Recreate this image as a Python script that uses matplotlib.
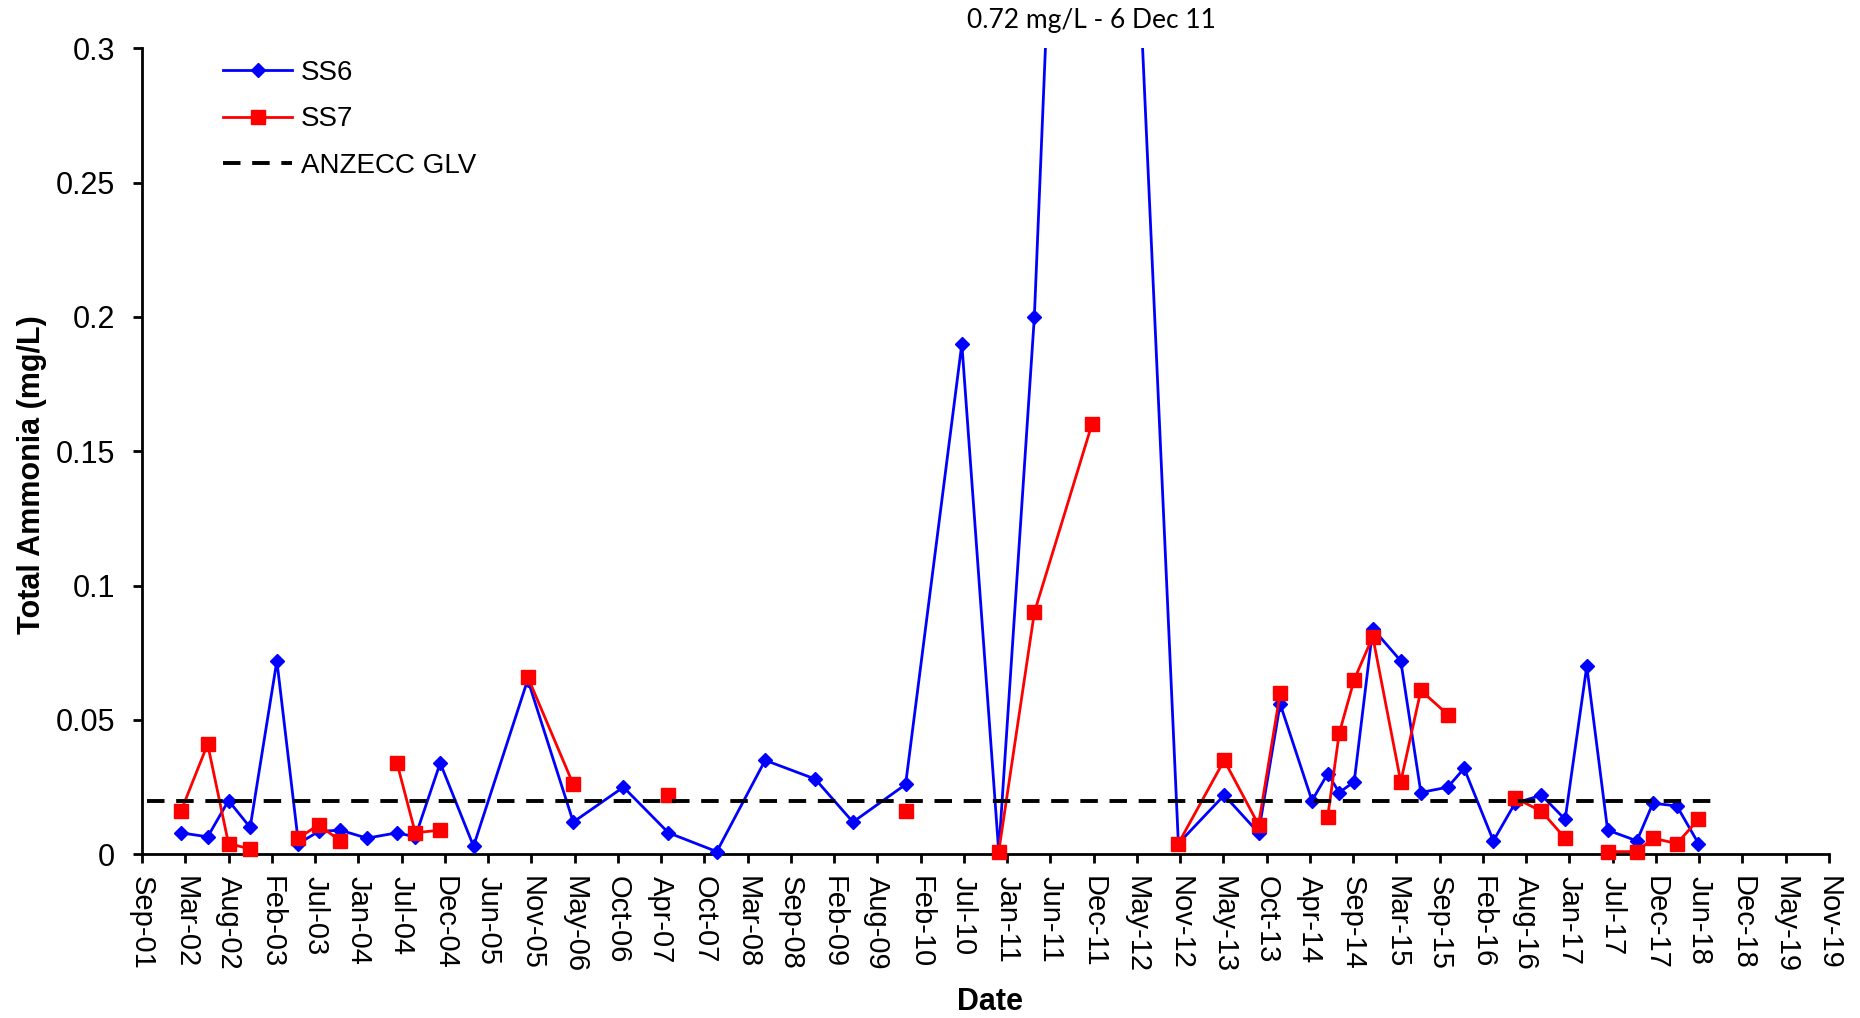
import matplotlib
matplotlib.use("Agg")
import matplotlib.pyplot as plt
import matplotlib.dates as mdates
import numpy as np
from matplotlib.ticker import FuncFormatter
from matplotlib.transforms import Bbox, TransformedBbox, blended_transform_factory

plt.rcParams['font.family'] = ['Liberation Sans', 'DejaVu Sans']

# ---------------- data ----------------
ss6_dates = ['2002-02-16', '2002-06-01', '2002-08-22', '2002-11-15', '2003-02-28',
             '2003-05-24', '2003-08-11', '2003-11-04', '2004-02-17', '2004-06-14',
             '2004-08-25', '2004-12-01', '2005-04-11', '2005-11-10', '2006-05-08',
             '2006-11-21', '2007-05-17', '2007-11-23', '2008-05-31', '2008-12-14',
             '2009-05-11', '2009-12-04', '2010-07-13', '2010-12-05', '2011-04-24',
             '2011-12-06', '2012-11-10', '2013-05-09', '2013-09-21', '2013-12-15',
             '2014-04-19', '2014-06-20', '2014-08-04', '2014-10-02', '2014-12-14',
             '2015-04-03', '2015-06-21', '2015-10-05', '2015-12-08', '2016-04-01',
             '2016-06-25', '2016-10-07', '2017-01-08', '2017-04-03', '2017-06-24',
             '2017-10-17', '2017-12-19', '2018-03-23', '2018-06-16']
ss6_values = [0.008, 0.0065, 0.020, 0.010, 0.072,
              0.004, 0.0085, 0.009, 0.006, 0.008,
              0.0065, 0.034, 0.003, 0.065, 0.012,
              0.025, 0.008, 0.001, 0.035, 0.028,
              0.012, 0.026, 0.190, 0.001, 0.200,
              0.720, 0.004, 0.022, 0.008, 0.056,
              0.020, 0.030, 0.023, 0.027, 0.084,
              0.072, 0.023, 0.025, 0.032, 0.005,
              0.019, 0.022, 0.013, 0.070, 0.009,
              0.005, 0.019, 0.018, 0.004]

nan = float('nan')
ss7_dates = ['2002-02-16', '2002-06-01', '2002-08-22', '2002-11-15', '2003-02-28',
             '2003-05-24', '2003-08-11', '2003-11-04', '2004-02-17',
             '2004-06-14', '2004-08-25', '2004-12-01', '2005-04-11',
             '2005-11-10', '2006-05-08', '2006-11-21',
             '2007-05-17', '2007-11-23',
             '2009-12-04', '2010-07-13',
             '2010-12-05', '2011-04-24', '2011-12-06', '2012-05-01',
             '2012-11-10', '2013-05-09', '2013-09-21', '2013-12-15', '2014-04-19',
             '2014-06-20', '2014-08-04', '2014-10-02', '2014-12-14', '2015-04-03',
             '2015-06-21', '2015-10-05', '2015-12-08',
             '2016-06-25', '2016-10-07', '2017-01-08', '2017-04-03',
             '2017-06-24', '2017-10-17', '2017-12-19', '2018-03-23', '2018-06-16']
ss7_values = [0.016, 0.041, 0.004, 0.002, nan,
              0.006, 0.011, 0.005, nan,
              0.034, 0.008, 0.009, nan,
              0.066, 0.026, nan,
              0.022, nan,
              0.016, nan,
              0.001, 0.090, 0.160, nan,
              0.004, 0.035, 0.011, 0.060, nan,
              0.014, 0.045, 0.065, 0.081, 0.027,
              0.061, 0.052, nan,
              0.021, 0.016, 0.006, nan,
              0.001, 0.001, 0.006, 0.004, 0.013]

glv_dates = ['2001-10-05', '2018-08-08']
glv_values = [0.02, 0.02]

peak_date = '2011-12-06'
peak_label = '0.72 mg/L - 6 Dec 11'

xtick_first = '2001-09-16'
xtick_step_days = 170
xtick_count = 40
ytick_values = [0, 0.05, 0.10, 0.15, 0.20, 0.25, 0.30]

# ---------------- figure ----------------
fig = plt.figure(figsize=(18.6, 10.18), dpi=100)
ax = fig.add_axes([0.076344, 0.160806, 0.906989, 0.791749])

d6 = np.array(ss6_dates, dtype='datetime64[D]')
d7 = np.array(ss7_dates, dtype='datetime64[D]')
dg = np.array(glv_dates, dtype='datetime64[D]')

l6, = ax.plot(d6, ss6_values, color='#0000FF', lw=2, marker='D', ms=7.5,
              mec='#0000FF', mfc='#0000FF', label='SS6', zorder=4)
l7, = ax.plot(d7, ss7_values, color='#FF0000', lw=2, marker='s', ms=10.5,
              mec='#FF0000', mfc='#FF0000', label='SS7', zorder=5)
lg, = ax.plot(dg, glv_values, color='black', lw=2.8, ls=(0, (4.5, 3)),
              label='ANZECC GLV', zorder=6)

clip = TransformedBbox(Bbox([[-0.02, -0.03], [1.02, 1.0]]), ax.transAxes)
for ln in (l6, l7, lg):
    ln.set_clip_box(clip)

xticks = np.datetime64(xtick_first) + np.arange(xtick_count) * xtick_step_days
ax.set_xticks(xticks)
ax.xaxis.set_major_formatter(mdates.DateFormatter('%b-%y'))
ax.set_xlim(xticks[0], xticks[-1])

ax.set_ylim(0, 0.3)
ax.set_yticks(ytick_values)
ax.yaxis.set_major_formatter(FuncFormatter(lambda v, p: f'{v:g}'))

for s in ('top', 'right'):
    ax.spines[s].set_visible(False)
for s in ('left', 'bottom'):
    ax.spines[s].set_linewidth(2)
    ax.spines[s].set_color('black')

ax.tick_params(axis='both', direction='out', length=6.5, width=2, color='black')
ax.tick_params(axis='y', labelsize=22, pad=13)
ax.tick_params(axis='x', labelsize=21, pad=9, labelrotation=-90)

ax.set_ylabel('Total Ammonia (mg/L)', fontsize=22, fontweight='bold')
ax.yaxis.set_label_coords(-0.0565, 0.4706)
ax.set_xlabel('Date', fontsize=22, fontweight='bold')
ax.xaxis.set_label_coords(0.5027, -0.1646)

tr = blended_transform_factory(ax.transData, ax.transAxes)
ax.text(np.datetime64(peak_date), 1.034, peak_label, transform=tr,
        ha='center', va='center', fontsize=19, family=['Lato', 'DejaVu Sans'])

ax.legend(handles=[l6, l7, lg], loc='upper left', bbox_to_anchor=(0.1199, 0.941),
          bbox_transform=fig.transFigure, frameon=False, fontsize=20,
          handlelength=2.5, handletextpad=0.3, labelspacing=0.73,
          borderpad=0, borderaxespad=0)

fig.savefig('out.png', dpi=100)
